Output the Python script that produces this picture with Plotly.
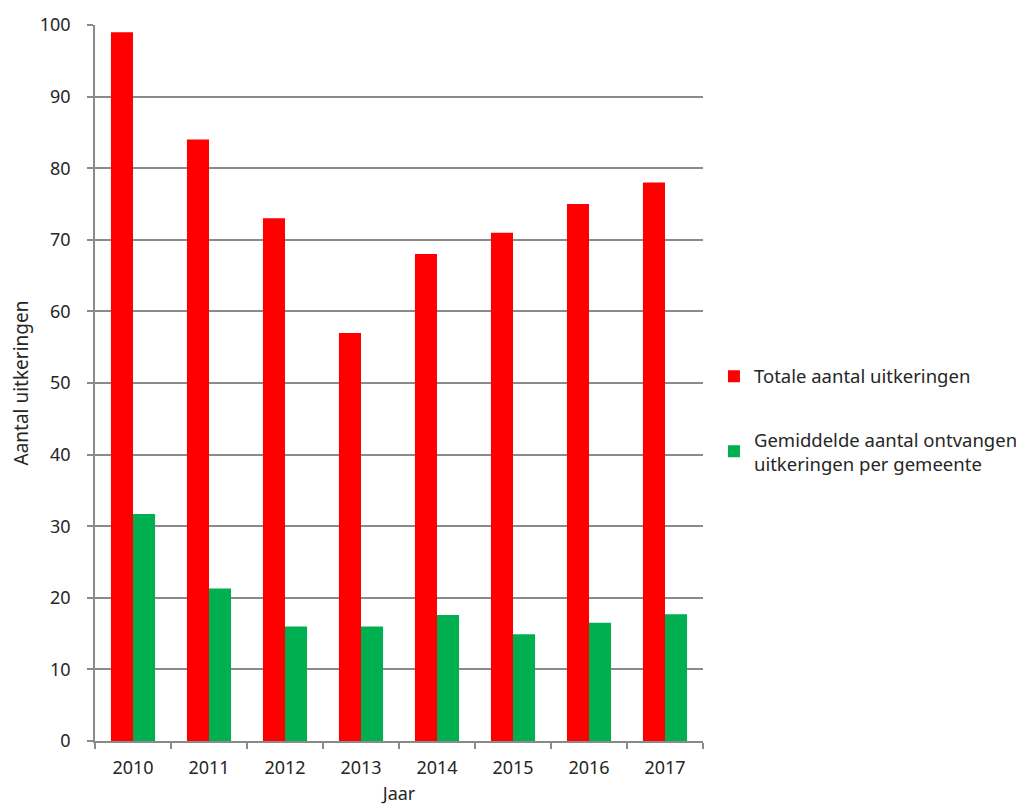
import plotly.graph_objects as go

years = ["2010", "2011", "2012", "2013", "2014", "2015", "2016", "2017"]
totaal = [99, 84, 73, 57, 68, 71, 75, 78]
gemiddeld = [31.7, 21.3, 16.0, 16.0, 17.6, 14.9, 16.5, 17.7]
y_ticks = [0, 10, 20, 30, 40, 50, 60, 70, 80, 90, 100]

FONT = "'Noto Sans', sans-serif"
GRID = "#8a8a8a"
TXT = "#262626"

fig = go.Figure()
fig.add_trace(go.Bar(x=years, y=totaal, name="Totale aantal uitkeringen",
                     marker=dict(color="#ff0000", line=dict(width=0)),
                     legendgroup="a"))
fig.add_trace(go.Bar(x=years, y=gemiddeld,
                     name="Gemiddelde aantal ontvangen<br>uitkeringen per gemeente",
                     marker=dict(color="#00b050", line=dict(width=0)),
                     legendgroup="b"))

fig.update_layout(
    width=1024, height=805,
    margin=dict(l=87, r=329, t=17, b=72, autoexpand=False),
    paper_bgcolor="white", plot_bgcolor="white",
    barmode="group", bargap=0.42, bargroupgap=0,
    font=dict(family=FONT, size=18, color=TXT),
    legend=dict(x=1.018, y=0.448, xanchor="left", yanchor="middle",
                tracegroupgap=36,
                font=dict(family=FONT, size=18.5, color=TXT),
                itemwidth=30),
    showlegend=True,
)
fig.update_xaxes(
    automargin=False,
    showline=True, linecolor=GRID, linewidth=1.5,
    ticks="outside", tickson="boundaries", ticklen=6, tickcolor=GRID, tickwidth=1.5,
    showgrid=False,
    ticklabelstandoff=10,
    title=dict(text="Jaar", standoff=9, font=dict(size=18)),
    tickfont=dict(size=18),
)
fig.update_yaxes(
    automargin=False,
    range=[0, 100], tickvals=y_ticks,
    showline=True, linecolor=GRID, linewidth=1.5,
    ticks="outside", ticklen=6, tickcolor=GRID, tickwidth=1.5,
    showgrid=True, gridcolor=GRID, gridwidth=1.5,
    zeroline=False,
    ticklabelstandoff=13,
    title=dict(text="Aantal uitkeringen", standoff=8, font=dict(size=19)),
    tickfont=dict(size=18),
)

fig.write_html("out.html")
